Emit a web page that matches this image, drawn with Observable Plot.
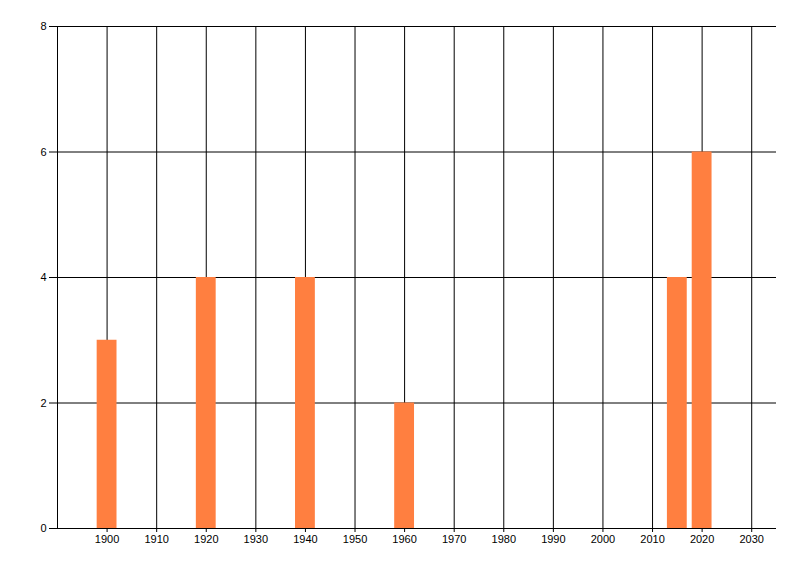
<!DOCTYPE html>
<html>
<head>
<meta charset="utf-8">
<script src="https://cdn.jsdelivr.net/npm/d3@7"></script>
<script src="https://cdn.jsdelivr.net/npm/@observablehq/plot@0.6"></script>
<style>
  body { margin: 0; background: #fff; }
</style>
</head>
<body>
<div id="chart"></div>
<script>
// valores
const years = [1900, 1920, 1940, 1960, 2015, 2020];
const counts = [3, 4, 4, 2, 4, 6];
const xTicks = [1900, 1910, 1920, 1930, 1940, 1950, 1960, 1970, 1980, 1990, 2000, 2010, 2020, 2030];
const yTicks = [0, 2, 4, 6, 8];

const data = years.map((year, i) => ({year, count: counts[i]}));
const half = 2; // media anchura de barra, en años

let chart = Plot.plot({
  width: 800,
  height: 576,
  marginLeft: 57,
  marginRight: 24,
  marginTop: 26,
  marginBottom: 48,
  style: {fontFamily: "Liberation Sans, Arial, sans-serif", fontSize: "11px", color: "#000", background: "#fff"},
  x: {domain: [1890, 2035], ticks: xTicks, tickFormat: "d", label: null},
  y: {domain: [0, 8], ticks: yTicks, label: null},
  marks: [
    Plot.ruleX(xTicks, {stroke: "#000"}), // rejilla vertical
    Plot.ruleY(yTicks, {stroke: "#000"}), // rejilla horizontal
    Plot.rectY(data, {x1: d => d.year - half, x2: d => d.year + half, y: "count", fill: "#ff7f40"}),
    Plot.ruleX([1890], {stroke: "#000"}),
    Plot.ruleY([0], {stroke: "#000"}),
    Plot.axisX({ticks: xTicks, tickFormat: "d", tickSize: 4, tickPadding: 3, label: null}),
    Plot.axisY({ticks: yTicks, tickSize: 8, tickPadding: 3, label: null})
  ]
});

d3.select('#chart').append(() => chart);
</script>
</body>
</html>
